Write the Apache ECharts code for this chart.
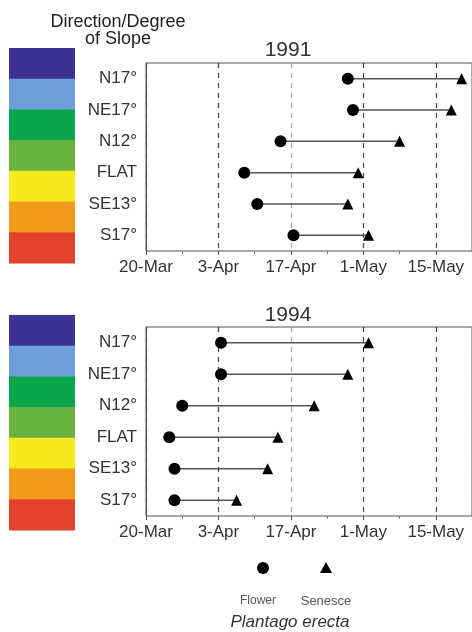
<!DOCTYPE html>
<html>
<head>
<meta charset="utf-8">
<script src="https://cdn.jsdelivr.net/npm/echarts@6/dist/echarts.min.js"></script>
<style>
  html, body { margin: 0; padding: 0; background: #fff; }
  #box { width: 472px; height: 632px; }
</style>
</head>
<body>
<div id="box"></div>
<script>
// slope categories, top to bottom
const slopes = ['N17°', 'NE17°', 'N12°', 'FLAT', 'SE13°', 'S17°']
// values are days after 20-Mar
const dateLabels = ['20-Mar', '3-Apr', '17-Apr', '1-May', '15-May']
const flower1991 = [39, 40, 26, 19, 21.5, 28.5]
const senesce1991 = [61, 59, 49, 41, 39, 43]
const flower1994 = [14.5, 14.5, 7, 4.5, 5.5, 5.5]
const senesce1994 = [43, 39, 32.5, 25.5, 23.5, 17.5]
const slopeColors = ['#3d3393', '#6d9fdc', '#0ba64a', '#68b33f', '#f6ea1c', '#f39a1a', '#e4432b']

const font = 'Liberation Sans, Arial, sans-serif'
const myChart = echarts.init(document.getElementById('box'))

function xAxisFor(gridIndex) {
  return {
    type: 'value', gridIndex: gridIndex, min: 0, max: 63, interval: 14,
    axisLine: { lineStyle: { color: '#555', width: 1 } },
    axisTick: { show: true, length: 4, lineStyle: { color: '#555' } },
    minorTick: { show: true, splitNumber: 2, length: 3, lineStyle: { color: '#777' } },
    axisLabel: {
      color: '#333', fontSize: 17, fontFamily: font, margin: 8, showMaxLabel: false,
      formatter: function (v) {
        const i = v / 14
        return Number.isInteger(i) && i < dateLabels.length ? dateLabels[i] : ''
      }
    },
    splitLine: {
      show: true,
      lineStyle: { type: [5, 5], width: 1.2, color: ['#444', '#444', '#aaa', '#444', '#444', '#fff'] }
    }
  }
}

function yAxisFor(gridIndex) {
  return {
    type: 'category', gridIndex: gridIndex, data: slopes, inverse: true,
    axisLine: { lineStyle: { color: '#555' } },
    axisTick: { alignWithLabel: true, length: 7, lineStyle: { color: '#555' } },
    axisLabel: { color: '#333', fontSize: 17, fontFamily: font, margin: 9 },
    splitLine: { show: false }
  }
}

function seriesFor(idx, flower, senesce) {
  const segs = flower.map((f, i) => [f, senesce[i], i])
  return [
    {
      type: 'custom', xAxisIndex: idx, yAxisIndex: idx, data: segs, z: 2,
      renderItem: function (params, api) {
        const a = api.coord([api.value(0), api.value(2)])
        const b = api.coord([api.value(1), api.value(2)])
        return {
          type: 'line',
          shape: { x1: a[0], y1: a[1], x2: b[0], y2: b[1] },
          style: { stroke: '#555', lineWidth: 1.5 }
        }
      }
    },
    {
      type: 'scatter', xAxisIndex: idx, yAxisIndex: idx, symbol: 'circle', symbolSize: 12, z: 3,
      itemStyle: { color: '#000', opacity: 1 },
      data: flower.map((f, i) => [f, i])
    },
    {
      type: 'scatter', xAxisIndex: idx, yAxisIndex: idx, symbol: 'triangle', symbolSize: 11, z: 3,
      itemStyle: { color: '#000', opacity: 1 },
      data: senesce.map((s, i) => [s, i])
    }
  ]
}

function colorBar(top) {
  const h = 215 / slopeColors.length
  return slopeColors.map((c, i) => ({
    type: 'rect',
    shape: { x: 9, y: top + i * h, width: 66, height: h + 0.5 },
    style: { fill: c }
  }))
}

function label(text, x, y, size, extra) {
  return {
    type: 'text', x: x, y: y,
    style: Object.assign({
      text: text, align: 'center', verticalAlign: 'middle',
      font: size + 'px ' + font, fill: '#333'
    }, extra || {})
  }
}

const option = {
  animation: false,
  grid: [
    { left: 146, top: 63, height: 188, right: 0, show: true, borderColor: '#555', borderWidth: 1 },
    { left: 146, top: 327, height: 189, right: 0, show: true, borderColor: '#555', borderWidth: 1 }
  ],
  xAxis: [xAxisFor(0), xAxisFor(1)],
  yAxis: [yAxisFor(0), yAxisFor(1)],
  series: seriesFor(0, flower1991, senesce1991).concat(seriesFor(1, flower1994, senesce1994)),
  graphic: [
    label('Direction/Degree\nof Slope', 118, 31, 18, { lineHeight: 17, fill: '#222' }),
    label('1991', 288, 50, 21),
    label('1994', 288, 315, 21)
  ].concat(colorBar(48), colorBar(315), [
    { type: 'circle', shape: { cx: 263, cy: 568, r: 6 }, style: { fill: '#000' } },
    { type: 'polygon', shape: { points: [[326, 562], [332, 573], [320, 573]] }, style: { fill: '#000' } },
    label('Flower', 258, 601, 12, { fill: '#555' }),
    label('Senesce', 326, 601, 13, { fill: '#555' }),
    label('Plantago erecta', 290, 622, 17, { font: 'italic 17px ' + font })
  ])
}
myChart.setOption(option)
</script>
</body>
</html>
